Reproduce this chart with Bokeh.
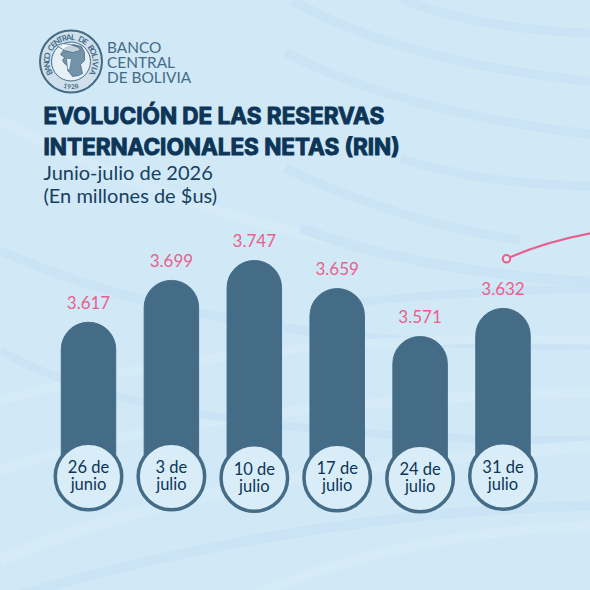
import numpy as np
from bokeh.core.properties import value
from bokeh.embed import file_html
from bokeh.models import Range1d
from bokeh.plotting import figure
from bokeh.resources import INLINE

# ---- chart content ----
week_slot = [0, 1, 2, 3, 4, 5]
date_line1 = ["26 de", "3 de", "10 de", "17 de", "24 de", "31 de"]
date_line2 = ["junio", "julio", "julio", "julio", "julio", "julio"]
value_labels = ["3.617", "3.699", "3.747", "3.659", "3.571", "3.632"]
# Bars are drawn at the level they show in the reference (its bars are not strictly to scale with the labels).
drawn_levels = [3604, 3701, 3747, 3682, 3571, 3636]
baseline_level = 3247

NAVY = "#0c3557"
BAR = "#456c87"
PINK = "#e9608a"
BG = "#d1e8f7"
BAND = "#c8e2f4"
LIGHT = "#d6ebf8"
MEDAL = "#d9edf9"
TEXT = "#17405f"
LATO = value("Lato")
INTER = value("Inter")

# The negative margin lets the picture fill the window; the ranges start at -8 to keep picture coordinates.
p = figure(width=598, height=598, output_backend="svg", toolbar_location=None,
           x_range=Range1d(-8, 590), y_range=Range1d(590, -8),
           x_axis_type=None, y_axis_type=None, min_border=0,
           background_fill_color=BG, border_fill_color=BG, outline_line_color=None,
           margin=(-8, 0, 0, -8))
p.grid.visible = False
p.extra_x_ranges = {"slot": Range1d(-1.158, 6.0555)}
p.extra_y_ranges = {"rin": Range1d(2983, 4367.5)}

# ---- decorative background bands (x0, y0, cx, cy, x1, y1) ----
bands = [
    (400, -2, 480, 30, 600, 33, BAND, 9),
    (292, 0, 400, 62, 600, 82, BAND, 9),
    (285, 52, 400, 112, 600, 135, BAND, 9),
    (400, 158, 480, 184, 600, 186, BAND, 9),
    (285, 168, 400, 222, 520, 240, BAND, 9),
    (0, 120, 150, 200, 330, 240, LIGHT, 10),
    (300, 228, 420, 272, 600, 282, BAND, 10),
    (330, 305, 450, 290, 600, 288, BAND, 8),
    (0, 250, 220, 350, 600, 345, BAND, 9),
    (0, 400, 260, 330, 600, 340, LIGHT, 9),
    (0, 470, 200, 400, 600, 392, LIGHT, 10),
    (0, 350, 150, 440, 600, 440, BAND, 8),
    (0, 560, 200, 470, 600, 445, LIGHT, 12),
    (0, 600, 300, 510, 600, 505, BAND, 10),
    (240, 600, 400, 530, 600, 525, LIGHT, 10),
]
for x0, y0, cx, cy, x1, y1, c, w in bands:
    p.quadratic(x0=x0, y0=y0, x1=x1, y1=y1, cx=cx, cy=cy, line_color=c, line_width=w, line_alpha=0.8)

# ---- bars ----
p.vbar(x=week_slot, top=drawn_levels, bottom=baseline_level, width=0.657, color=BAR,
       border_radius=(27, 27, 0, 0), x_range_name="slot", y_range_name="rin")

# ---- value labels ----
p.text(x=week_slot, y=drawn_levels, text=value_labels, x_range_name="slot", y_range_name="rin",
       text_font=LATO, text_font_size="17px", text_color=PINK,
       text_align="center", text_baseline="middle", y_offset=-20)

# ---- date medallions ----
medal_offsets = [0, 0, 1.5, 1, 2, -0.5]
medal_y = [476 + d for d in medal_offsets]
p.scatter(x=week_slot, y=medal_y, x_range_name="slot", marker="circle", size=66.5,
          fill_color=MEDAL, line_color=BAR, line_width=3.5)
line1_y = [y - 9.5 for y in medal_y]
line2_y = [y + 7.5 for y in medal_y]
p.text(x=week_slot, y=line1_y, text=date_line1, x_range_name="slot", text_font=LATO, text_font_size="16.5px",
       text_color=NAVY, text_align="center", text_baseline="middle")
p.text(x=week_slot, y=line2_y, text=date_line2, x_range_name="slot", text_font=LATO, text_font_size="16.5px",
       text_color=NAVY, text_align="center", text_baseline="middle")

# ---- pink accent ----
p.quadratic(x0=509, y0=257, x1=600, y1=231, cx=548, cy=240, line_color=PINK, line_width=2.2)
p.scatter(x=[506], y=[258.3], marker="circle", size=7.5, fill_color=MEDAL, line_color=PINK, line_width=2)

# ---- title block ----
p.text(x=[43], y=[115], text=["EVOLUCIÓN DE LAS RESERVAS"], text_font=INTER, text_font_style="bold",
       text_font_size="22.5px", text_color=NAVY, text_baseline="middle", text_outline_color=NAVY)
p.text(x=[43], y=[146], text=["INTERNACIONALES NETAS (RIN)"], text_font=INTER, text_font_style="bold",
       text_font_size="22.5px", text_color=NAVY, text_baseline="middle", text_outline_color=NAVY)
p.text(x=[43], y=[171], text=["Junio-julio de 2026"], text_font=LATO, text_font_size="20px",
       text_color=TEXT, text_baseline="middle")
p.text(x=[43], y=[194], text=["(En millones de $us)"], text_font=LATO, text_font_size="20px",
       text_color=TEXT, text_baseline="middle")

# ---- bank wordmark ----
for txt, yy in zip(["BANCO", "CENTRAL", "DE BOLIVIA"], [46.5, 61, 76]):
    p.text(x=[106.5], y=[yy], text=[txt], text_font=LATO, text_font_size="15.4px",
           text_color=BAR, text_baseline="middle")

# ---- seal ----
cx, cy = 70.5, 61
p.scatter(x=[cx], y=[cy], marker="circle", size=62, fill_color="#cfe0ec", line_color=BAR, line_width=2)
p.scatter(x=[cx], y=[cy], marker="circle", size=39, fill_color="#e4eff6", line_color=BAR, line_width=1)
ring = "BANCO CENTRAL DE BOLIVIA"
theta = np.radians(np.linspace(207, -27, len(ring)))
p.text(x=(cx + 24.5 * np.cos(theta)).tolist(), y=(cy - 24.5 * np.sin(theta)).tolist(), text=list(ring),
       angle=(theta - np.pi / 2).tolist(), text_font=LATO, text_font_style="bold", text_font_size="8px",
       text_color=BAR, text_align="center", text_baseline="middle")
yr = np.radians(np.linspace(257, 283, 4))
p.text(x=(cx + 24.5 * np.cos(yr)).tolist(), y=(cy - 24.5 * np.sin(yr)).tolist(), text=list("1928"),
       angle=(yr + np.pi / 2).tolist(), text_font=LATO, text_font_style="bold", text_font_size="6.5px",
       text_color=BAR, text_align="center", text_baseline="middle")
# Mercury head, simplified
p.patch(x=[60, 65, 73, 81, 84, 84, 80, 82, 78, 72, 69, 67, 68, 64, 62, 64],
        y=[54, 47, 44, 46, 52, 60, 64, 73, 75, 76, 72, 70, 66, 63, 60, 57],
        fill_color=BAR, fill_alpha=0.7, line_color=BAR, line_width=0.8)
p.patch(x=[56, 62, 70, 78, 80, 72, 64], y=[45, 43, 44, 47, 50, 52, 50],
        fill_color="#ffffff", fill_alpha=0.6, line_color=BAR, line_width=0.8)
p.patch(x=[66, 71, 69, 67], y=[58, 58, 70, 68], fill_color="#e4eff6", line_color=BAR, line_width=0.6)

open("out.html", "w").write(file_html(p, INLINE))
